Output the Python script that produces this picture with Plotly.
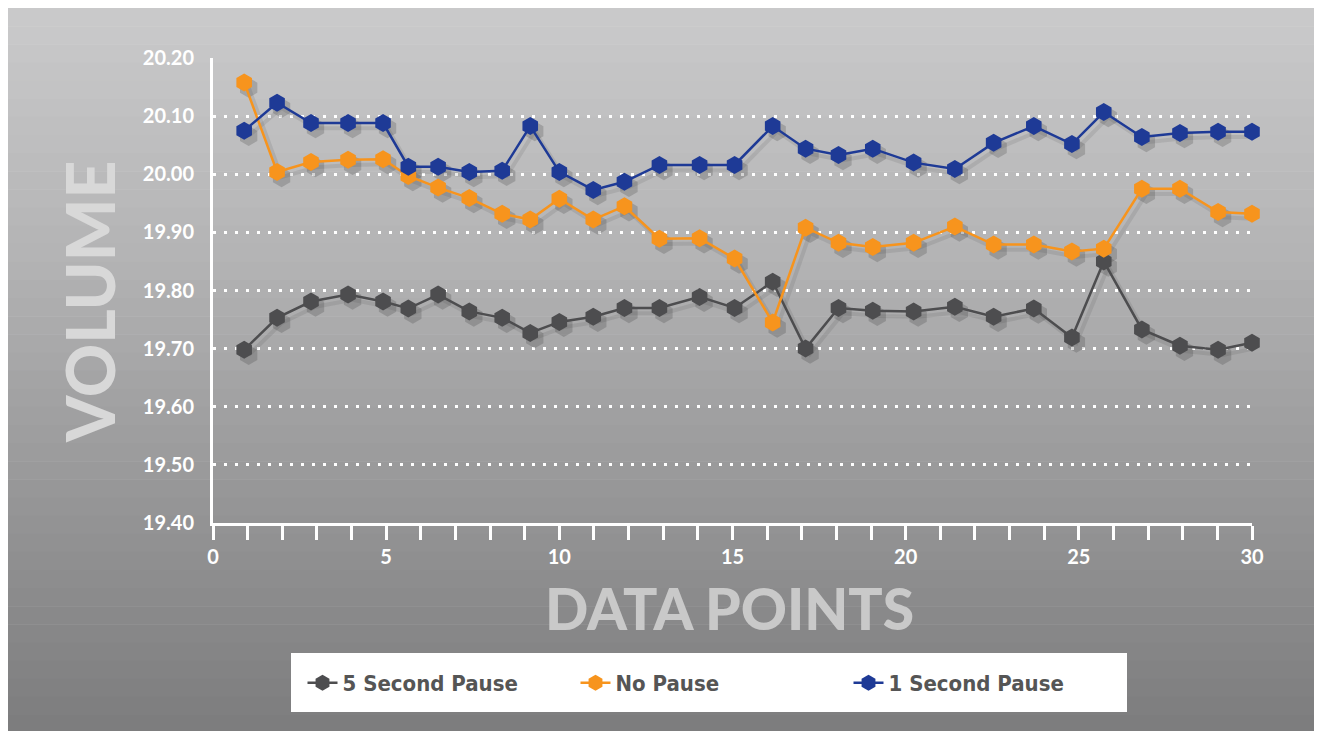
import plotly.graph_objects as go

# ---------------- data ----------------
series_names = ["5 Second Pause", "No Pause", "1 Second Pause"]
x_pos = [0.90, 1.85, 2.83, 3.90, 4.91, 5.64, 6.50, 7.40, 8.35, 9.16,
         10.00, 10.98, 11.88, 12.89, 14.05, 15.06, 16.16, 17.11, 18.06, 19.05,
         20.23, 21.42, 22.54, 23.70, 24.80, 25.72, 26.82, 27.92, 29.02, 30.00]
five_sec = [19.698, 19.753, 19.781, 19.793, 19.781, 19.769, 19.793, 19.764, 19.753, 19.727,
            19.746, 19.755, 19.770, 19.770, 19.789, 19.770, 19.815, 19.700, 19.770, 19.765,
            19.764, 19.772, 19.755, 19.769, 19.719, 19.850, 19.733, 19.705, 19.698, 19.710]
no_pause = [20.158, 20.004, 20.021, 20.025, 20.026, 19.997, 19.977, 19.959, 19.932, 19.922,
            19.958, 19.922, 19.945, 19.889, 19.890, 19.855, 19.745, 19.908, 19.882, 19.875,
            19.882, 19.910, 19.879, 19.879, 19.867, 19.872, 19.975, 19.975, 19.935, 19.932]
one_sec = [20.075, 20.123, 20.088, 20.088, 20.088, 20.013, 20.013, 20.004, 20.006, 20.083,
           20.004, 19.973, 19.987, 20.016, 20.016, 20.016, 20.083, 20.044, 20.033, 20.044,
           20.020, 20.009, 20.054, 20.083, 20.052, 20.107, 20.064, 20.071, 20.073, 20.073]
y_ticks = [19.40, 19.50, 19.60, 19.70, 19.80, 19.90, 20.00, 20.10, 20.20]
y_tick_labels = ["19.40", "19.50", "19.60", "19.70", "19.80", "19.90", "20.00", "20.10", "20.20"]
x_ticks = [0, 5, 10, 15, 20, 25, 30]
x_title = "DATA POINTS"
y_title = "VOLUME"

# ---------------- styling ----------------
colors = ["#4d4d4f", "#f7941d", "#1e3a96"]
# page body has an 8px margin -> figure sits at (8, 8) of the window
OX, OY = 8, 8
W, H = 1306, 723
L, T = 213 - OX, 58 - OY
R = W - (1252 - OX)
B = H - (523 - OY)
PW, PH = W - L - R, H - T - B


def px_x(rx):  # reference-window pixel -> paper x
    return (rx - OX - L) / PW


def px_y(ry):  # reference-window pixel -> paper y
    return (H - B - (ry - OY)) / PH


fig = go.Figure()

series = [five_sec, no_pause, one_sec]

# soft drop shadows
for vals in series:
    fig.add_trace(go.Scatter(
        x=[v + 0.13 for v in x_pos], y=[v - 0.009 for v in vals],
        mode="lines+markers", showlegend=False, hoverinfo="skip",
        line=dict(color="rgba(40,40,40,0.10)", width=4),
        marker=dict(symbol="hexagon", size=20, color="rgba(40,40,40,0.20)", line=dict(width=0)),
        cliponaxis=False,
    ))

for name, vals, c in zip(series_names, series, colors):
    fig.add_trace(go.Scatter(
        x=x_pos, y=vals, name=name, mode="lines+markers",
        line=dict(color=c, width=2.5),
        marker=dict(symbol="hexagon", size=18, color=c, line=dict(width=0)),
        cliponaxis=False,
    ))

# background gradient (bands)
stops = [(0, 203), (250, 180), (500, 150), (760, 121)]
shapes = []
n = 40
for i in range(n):
    a = OY + (H + 2) * i / n
    b = OY + (H + 2) * (i + 1) / n
    mid = (a + b) / 2
    for (p0, c0), (p1, c1) in zip(stops[:-1], stops[1:]):
        if p0 <= mid <= p1:
            g = c0 + (c1 - c0) * (mid - p0) / (p1 - p0)
            break
    g = int(round(g))
    shapes.append(dict(type="rect", xref="paper", yref="paper", layer="below",
                       x0=px_x(OX - 2), x1=px_x(OX + W + 2), y0=px_y(b + 0.6), y1=px_y(a - 1 if i == 0 else a),
                       fillcolor=f"rgb({g},{g},{g + 1})", line=dict(width=0)))

# white legend panel
shapes.append(dict(type="rect", xref="paper", yref="paper", layer="below",
                   x0=px_x(291), x1=px_x(1127), y0=px_y(712), y1=px_y(653),
                   fillcolor="white", line=dict(width=0)))

annotations = [
    dict(text=y_title, xref="paper", yref="paper", x=px_x(89), y=px_y(302),
         textangle=-90, showarrow=False, xanchor="center", yanchor="middle",
         font=dict(family="Lato", size=66, color="#d8d8d8", weight=900)),
    dict(text=x_title, xref="paper", yref="paper", x=px_x(729), y=px_y(608),
         showarrow=False, xanchor="center", yanchor="middle",
         font=dict(family="Lato", size=57, color="#c9c9c9", weight=900)),
]

fig.update_layout(
    width=W, height=H,
    margin=dict(l=L, r=R, t=T, b=B),
    paper_bgcolor="white",
    plot_bgcolor="rgba(0,0,0,0)",
    shapes=shapes,
    annotations=annotations,
    showlegend=True,
    legend=dict(
        orientation="h", x=px_x(712), xanchor="center", y=px_y(683), yanchor="middle",
        bgcolor="white", borderwidth=0,
        font=dict(family="DejaVu Sans Condensed", size=22, color="#555555", weight="bold"),
        itemwidth=30, entrywidth=228, entrywidthmode="pixels",
    ),
    xaxis=dict(
        range=[0, 30], showgrid=False, zeroline=False,
        showline=True, linecolor="white", linewidth=3,
        tickvals=x_ticks, ticks="outside", ticklen=14, tickwidth=3, tickcolor="white",
        minor=dict(dtick=1, ticks="outside", ticklen=14, tickwidth=3, tickcolor="white", showgrid=False),
        tickfont=dict(family="Lato", size=20, color="white", weight="bold"),
    ),
    yaxis=dict(
        range=[19.40, 20.20], zeroline=False,
        showline=True, linecolor="white", linewidth=3,
        tickvals=y_ticks, ticktext=y_tick_labels, ticks="",
        showgrid=True, gridcolor="white", gridwidth=3, griddash="3px,8px",
        tickfont=dict(family="Lato", size=20, color="white", weight="bold"),
        ticklabelstandoff=12,
    ),
)

fig.write_html("out.html")
